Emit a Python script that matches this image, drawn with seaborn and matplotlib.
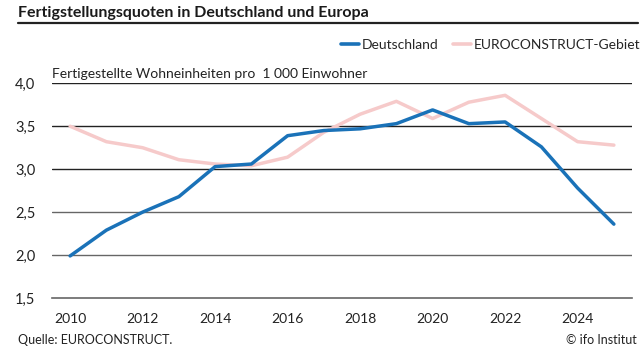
import matplotlib
matplotlib.use("Agg")
import matplotlib.pyplot as plt
import seaborn as sns
import pandas as pd
from matplotlib.lines import Line2D

years = list(range(2010, 2026))
deutschland = [1.99, 2.29, 2.50, 2.68, 3.03, 3.06, 3.39, 3.45, 3.47, 3.53, 3.69, 3.53, 3.55, 3.26, 2.78, 2.36]
euroconstruct = [3.50, 3.32, 3.25, 3.11, 3.06, 3.04, 3.14, 3.43, 3.64, 3.79, 3.59, 3.78, 3.86, 3.59, 3.32, 3.28]
series_names = ["Deutschland", "EUROCONSTRUCT-Gebiet"]
colors = ["#1a72b8", "#f6caca"]
yticks = [1.5, 2.0, 2.5, 3.0, 3.5, 4.0]
ytick_labels = ["1,5", "2,0", "2,5", "3,0", "3,5", "4,0"]
xlabel_years = [2010, 2012, 2014, 2016, 2018, 2020, 2022, 2024]

df = pd.DataFrame({
    "Jahr": years * 2,
    "Wert": deutschland + euroconstruct,
    "Serie": [series_names[0]] * len(years) + [series_names[1]] * len(years),
})

sns.set_theme(style="white")
plt.rcParams["font.family"] = ["Lato", "DejaVu Sans"]

fig = plt.figure(figsize=(6.43, 3.61), dpi=100)
ax = fig.add_axes([52/643, 1-298/361, (632-52)/643, (298-83.3)/361])

for y, c in [(2.0, "#666666"), (2.5, "#666666"), (3.0, "#222222"), (3.5, "#222222"), (4.0, "#222222")]:
    ax.axhline(y, color=c, lw=1.0, zorder=1)

sns.lineplot(data=df, x="Jahr", y="Wert", hue="Serie", hue_order=[series_names[1], series_names[0]],
             palette={series_names[0]: colors[0], series_names[1]: colors[1]},
             lw=2.5, ax=ax, legend=False, zorder=3)

ax.set_xlim(years[0]-0.5, years[-1]+0.5)
ax.set_ylim(1.5, 4.0)
ax.set_yticks(yticks)
ax.set_yticklabels(ytick_labels, fontsize=10.5, color="#222222")
ax.set_xticks(xlabel_years)
ax.set_xticklabels([str(y) for y in xlabel_years], fontsize=10, color="#222222")
ax.set_xticks([y - 0.5 for y in years] + [years[-1] + 0.5], minor=True)
ax.tick_params(axis="x", which="major", length=0, pad=11)
ax.tick_params(axis="x", which="minor", length=4, width=1, color="#666666", direction="out")
ax.tick_params(axis="y", length=0, pad=12)
for lab in ax.get_yticklabels():
    lab.set_horizontalalignment("right")
ax.set_xlabel("")
ax.set_ylabel("")
for s in ["top", "right", "left"]:
    ax.spines[s].set_visible(False)
ax.spines["bottom"].set_color("#666666")
ax.spines["bottom"].set_linewidth(1.2)

fig.text(18/643, 1-13/361, "Fertigstellungsquoten in Deutschland und Europa", fontsize=11.5,
         fontweight="bold", va="center", ha="left", color="#1a1a1a")
fig.add_artist(Line2D([18/643, 638/643], [1-23/361, 1-23/361], color="#222222", lw=1.6))

fig.text(52/643, 1-74/361, "Fertigestellte Wohneinheiten pro  1 000 Einwohner", fontsize=10,
         va="center", ha="left", color="#222222")

handles = [Line2D([], [], color=colors[0], lw=2.6), Line2D([], [], color=colors[1], lw=2.6)]
fig.legend(handles, series_names, loc="center right", bbox_to_anchor=(640/643, 1-45/361), ncol=2,
           frameon=False, fontsize=10, handlelength=1.3, handletextpad=0.2, columnspacing=1.0,
           borderaxespad=0, borderpad=0)

fig.text(18/643, 1-340/361, "Quelle: EUROCONSTRUCT.", fontsize=9, va="center", ha="left", color="#222222")
fig.text(637/643, 1-340/361, "© ifo Institut", fontsize=9, va="center", ha="right", color="#222222")

fig.savefig("out.png", dpi=100)
